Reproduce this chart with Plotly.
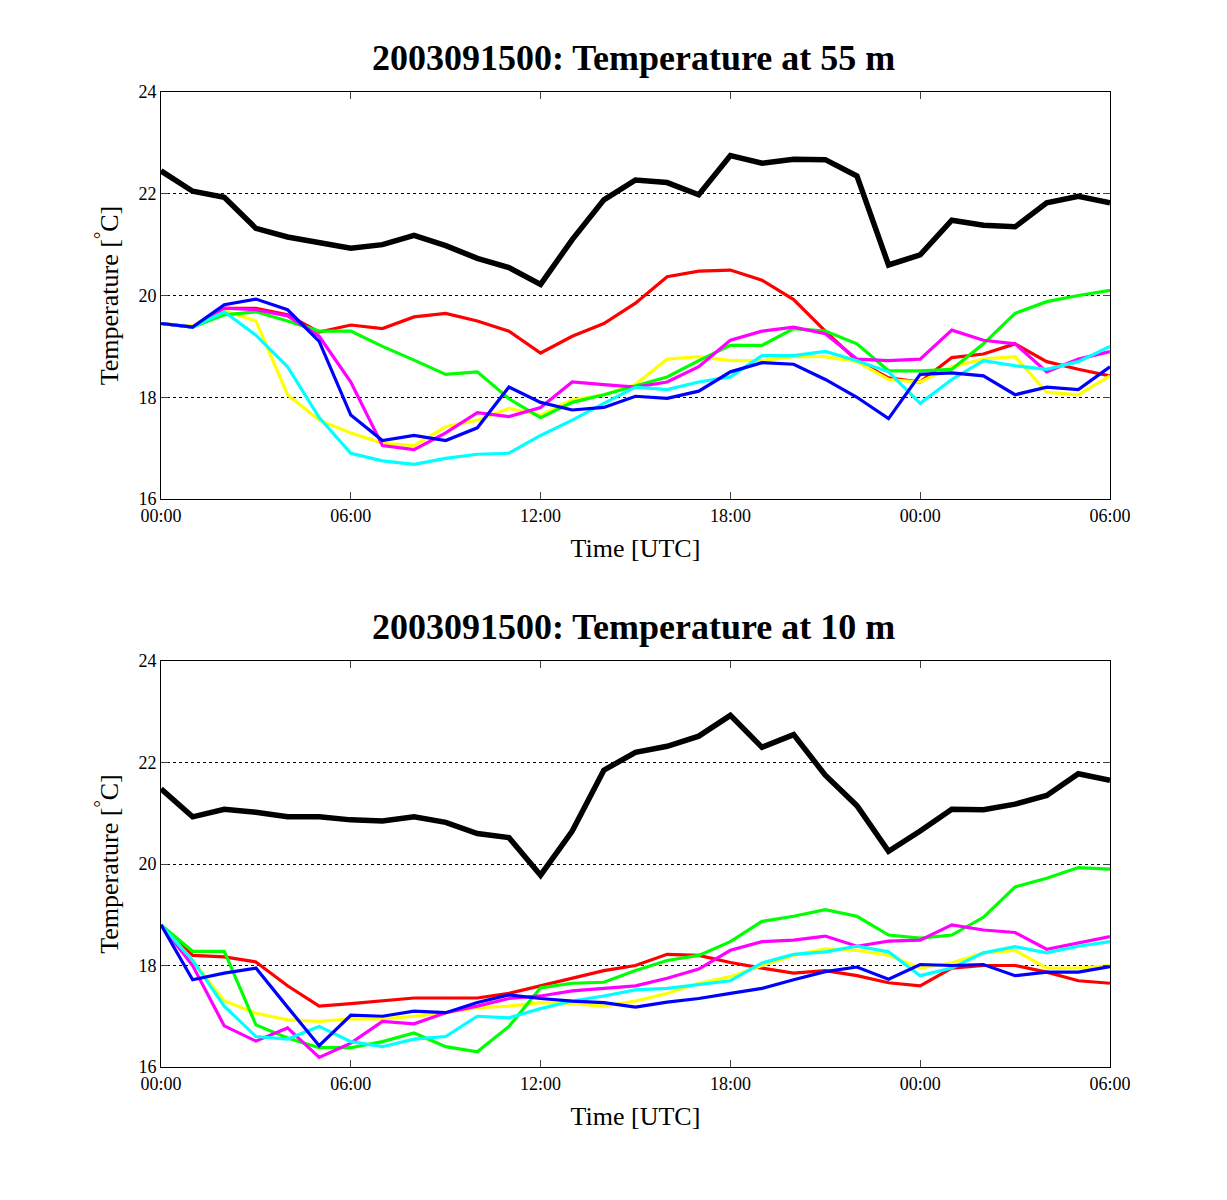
import plotly.graph_objects as go

hours = list(range(31))
tick_vals = [0, 6, 12, 18, 24, 30]
tick_text = ["00:00", "06:00", "12:00", "18:00", "00:00", "06:00"]
titles = ["2003091500: Temperature at 55 m", "2003091500: Temperature at 10 m"]

top_black = [22.45,22.05,21.93,21.32,21.15,21.05,20.93,21.0,21.18,20.98,20.73,20.55,20.22,21.1,21.88,22.27,22.22,21.98,22.75,22.6,22.68,22.67,22.35,20.6,20.8,21.48,21.38,21.35,21.82,21.95,21.82]
top_red = [19.45,19.38,19.75,19.75,19.62,19.28,19.42,19.35,19.58,19.65,19.5,19.3,18.87,19.2,19.45,19.85,20.37,20.48,20.5,20.3,19.92,19.3,18.72,18.38,18.3,18.78,18.85,19.05,18.7,18.55,18.42]
top_yellow = [19.45,19.4,19.7,19.5,18.05,17.55,17.3,17.1,17.05,17.42,17.55,17.78,17.65,17.95,18.05,18.25,18.75,18.8,18.72,18.72,18.8,18.8,18.7,18.35,18.3,18.6,18.75,18.8,18.1,18.05,18.42]
top_green = [19.45,19.38,19.62,19.68,19.5,19.3,19.3,19.0,18.73,18.45,18.5,17.97,17.6,17.9,18.05,18.22,18.4,18.72,19.02,19.02,19.35,19.3,19.05,18.52,18.52,18.55,19.05,19.65,19.88,20.0,20.1]
top_magenta = [19.45,19.38,19.75,19.72,19.6,19.2,18.3,17.05,16.97,17.3,17.7,17.62,17.8,18.3,18.25,18.2,18.3,18.6,19.12,19.3,19.38,19.25,18.75,18.72,18.75,19.32,19.12,19.05,18.5,18.75,18.9]
top_cyan = [19.45,19.38,19.68,19.22,18.6,17.6,16.9,16.75,16.68,16.8,16.88,16.9,17.25,17.55,17.88,18.2,18.15,18.3,18.4,18.82,18.82,18.9,18.72,18.5,17.88,18.35,18.72,18.62,18.55,18.7,19.0]
top_blue = [19.45,19.38,19.82,19.93,19.72,19.1,17.65,17.15,17.25,17.15,17.4,18.2,17.9,17.75,17.8,18.02,17.98,18.12,18.5,18.68,18.65,18.35,18.0,17.58,18.45,18.48,18.42,18.05,18.2,18.15,18.6]

bot_black = [21.48,20.93,21.08,21.02,20.93,20.93,20.87,20.85,20.93,20.82,20.6,20.52,19.78,20.65,21.85,22.2,22.32,22.52,22.93,22.3,22.55,21.75,21.15,20.25,20.65,21.08,21.07,21.18,21.35,21.78,21.65]
bot_red = [18.8,18.2,18.17,18.07,17.6,17.2,17.25,17.3,17.36,17.36,17.36,17.45,17.6,17.75,17.9,18.0,18.22,18.2,18.06,17.95,17.85,17.9,17.8,17.66,17.6,17.95,18.0,18.0,17.87,17.7,17.65]
bot_yellow = [18.8,18.1,17.3,17.06,16.93,16.9,16.95,16.95,17.0,17.07,17.17,17.2,17.27,17.25,17.2,17.3,17.45,17.65,17.78,18.0,18.2,18.33,18.3,18.2,17.95,18.05,18.25,18.3,17.95,17.95,18.0]
bot_green = [18.8,18.28,18.28,16.83,16.57,16.38,16.38,16.5,16.67,16.4,16.3,16.8,17.56,17.65,17.67,17.9,18.1,18.2,18.47,18.87,18.97,19.1,18.97,18.6,18.54,18.6,18.95,19.55,19.72,19.93,19.9]
bot_magenta = [18.8,18.0,16.81,16.51,16.77,16.19,16.47,16.9,16.85,17.07,17.2,17.35,17.4,17.5,17.55,17.6,17.75,17.93,18.3,18.47,18.5,18.58,18.38,18.48,18.5,18.8,18.7,18.65,18.32,18.45,18.57]
bot_cyan = [18.8,18.1,17.2,16.6,16.55,16.8,16.5,16.4,16.55,16.6,17.0,16.97,17.15,17.3,17.4,17.52,17.55,17.62,17.7,18.05,18.22,18.27,18.38,18.27,17.8,17.95,18.25,18.37,18.25,18.38,18.47]
bot_blue = [18.8,17.72,17.85,17.95,17.18,16.42,17.02,17.0,17.1,17.07,17.27,17.42,17.35,17.3,17.27,17.18,17.28,17.35,17.45,17.55,17.72,17.88,17.97,17.73,18.02,18.0,18.02,17.8,17.87,17.87,17.98]

series = [
    ([top_black, top_red, top_yellow, top_green, top_magenta, top_cyan, top_blue], "", ""),
    ([bot_black, bot_red, bot_yellow, bot_green, bot_magenta, bot_cyan, bot_blue], "2", "2"),
]
colors = ["#000000", "#ff0000", "#ffff00", "#00ff00", "#ff00ff", "#00ffff", "#0000ff"]
widths = [5.5, 3.2, 3.2, 3.2, 3.2, 3.2, 3.2]

fig = go.Figure()
for data, xa, ya in series:
    for d, c, w in zip(data, colors, widths):
        fig.add_trace(go.Scatter(x=hours, y=d, mode="lines", line=dict(color=c, width=w),
                                 xaxis="x" + xa, yaxis="y" + ya, showlegend=False))

font = "Liberation Serif, Times New Roman, serif"
ax = dict(range=[0, 30], tickvals=tick_vals, ticktext=tick_text, ticks="inside", ticklen=7,
          showline=True, linecolor="black", mirror="ticks", showgrid=False, zeroline=False,
          automargin=False, tickfont=dict(size=18, color="black"),
          title=dict(text="Time [UTC]", font=dict(size=26, color="black"), standoff=14))
ay = dict(range=[16, 24], tickvals=[16, 18, 20, 22, 24], ticks="inside", ticklen=7,
          showline=True, linecolor="black", mirror="ticks", showgrid=True, gridcolor="black",
          griddash="dot", gridwidth=1, zeroline=False, automargin=False,
          tickfont=dict(size=18, color="black"),
          title=dict(text="Temperature [<sup>°</sup>C]", font=dict(size=26, color="black"), standoff=12))

fig.update_layout(
    width=1227, height=1200, margin=dict(l=0, r=0, t=0, b=0, autoexpand=False),
    paper_bgcolor="white", plot_bgcolor="white", font=dict(family=font, color="black"),
    xaxis=dict(ax, domain=[0.1247, 0.8981], anchor="y"),
    yaxis=dict(ay, domain=[0.5908, 0.93], anchor="x"),
    xaxis2=dict(ax, domain=[0.1247, 0.8981], anchor="y2"),
    yaxis2=dict(ay, domain=[0.1175, 0.4558], anchor="x2"),
    annotations=[
        dict(text="<b>" + titles[0] + "</b>", x=0.510, y=0.958, xref="paper", yref="paper",
             showarrow=False, font=dict(size=36, color="black"), yanchor="middle"),
        dict(text="<b>" + titles[1] + "</b>", x=0.510, y=0.484, xref="paper", yref="paper",
             showarrow=False, font=dict(size=36, color="black"), yanchor="middle"),
    ],
)
fig.write_html("out.html")
